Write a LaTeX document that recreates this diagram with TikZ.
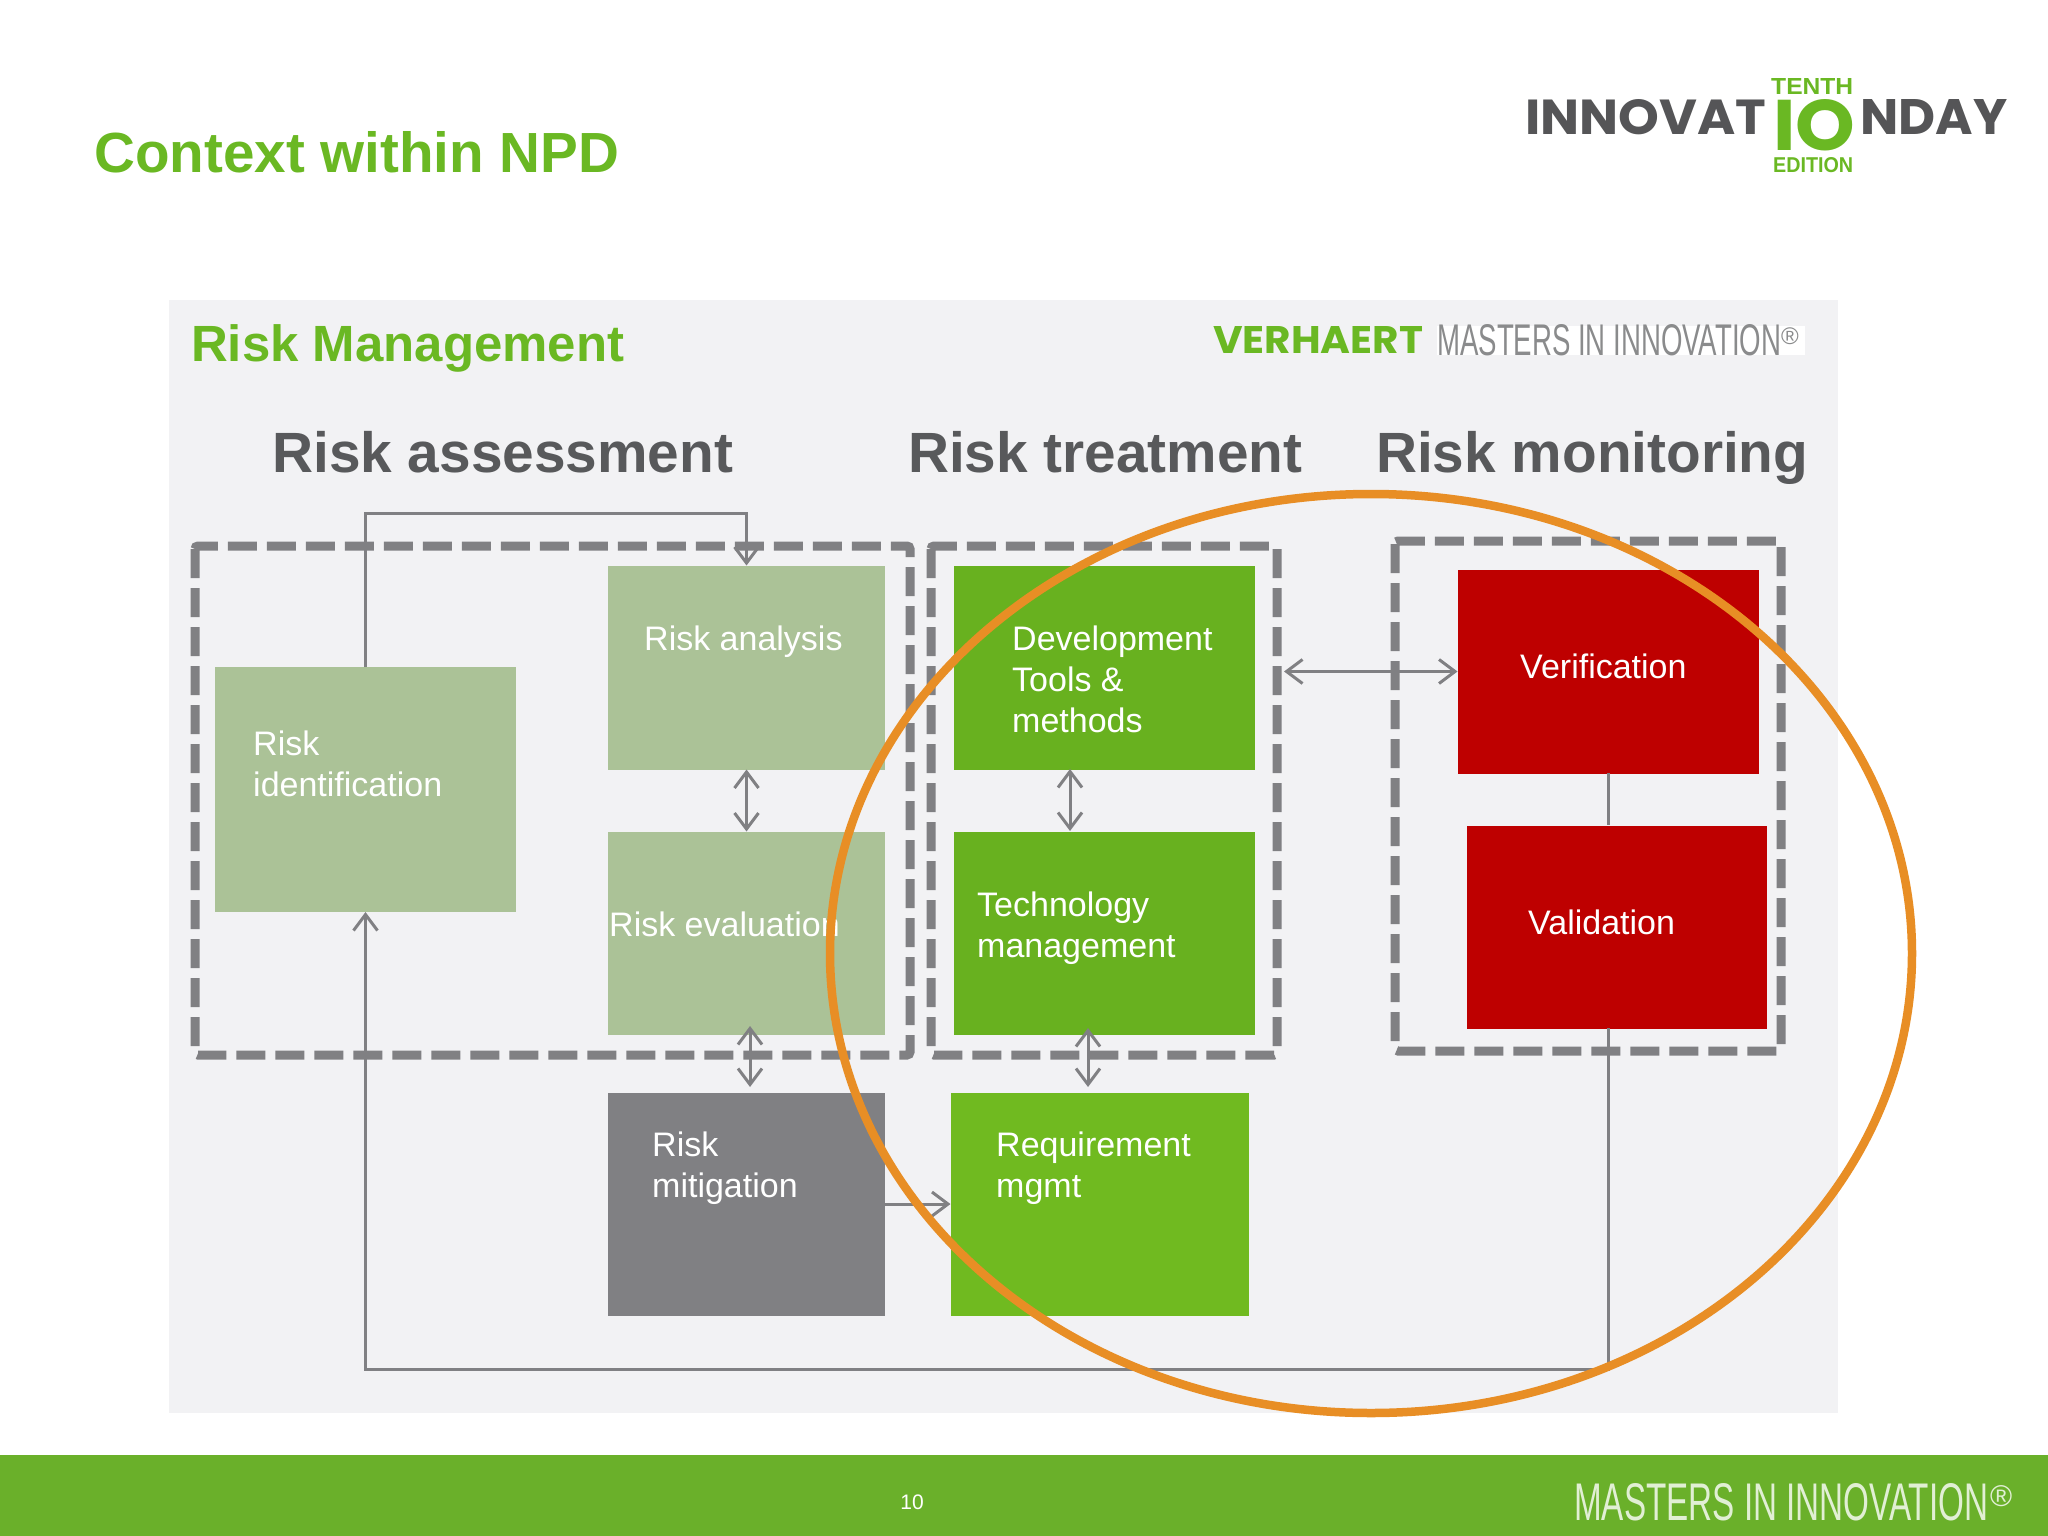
\documentclass[tikz,border=0pt]{standalone}
\usepackage{fontspec}
\usepackage{graphicx}
\setmainfont{Liberation Sans}
\newfontfamily\logofont{Poppins}
\usetikzlibrary{arrows.meta}
\definecolor{panelc}{HTML}{F2F2F4}
\definecolor{titleg}{HTML}{6AB823}
\definecolor{paleg}{HTML}{ABC297}
\definecolor{greenb}{HTML}{68B11F}
\definecolor{greenc}{HTML}{70BA20}
\definecolor{redb}{HTML}{BE0000}
\definecolor{lineg}{HTML}{808083}
\definecolor{headg}{HTML}{58595B}
\definecolor{orangec}{HTML}{E88E25}
\definecolor{footg}{HTML}{6AB02A}
\definecolor{logog}{HTML}{555557}
\tikzset{
 boxn/.style={draw=none,inner sep=0pt,outer sep=0pt,anchor=center},
 lbl/.style={text=white,anchor=west,inner sep=0pt,align=left,font=\fontsize{34}{41}\selectfont},
 txt/.style={anchor=base west,inner sep=0pt},
 dashb/.style={draw=lineg,line width=9pt,dash pattern=on 29pt off 10pt,rounded corners=3pt},
 conn/.style={draw=lineg,line width=3pt},
 bi/.style={conn,{Straight Barb[length=16pt,width=24pt,line width=3pt]}-{Straight Barb[length=16pt,width=24pt,line width=3pt]}},
 uni/.style={conn,-{Straight Barb[length=16pt,width=24pt,line width=3pt]}}
}
\newcommand{\fitw}[2]{\resizebox{#1pt}{!}{#2}}
\newcommand{\fitwh}[3]{\resizebox{#1pt}{#2pt}{#3}}
\begin{document}
\begin{tikzpicture}[x=1pt,y=-1pt]
\useasboundingbox (0,0) rectangle (2048,1536);
\fill[white] (0,0) rectangle (2048,1536);
% panel and footer
\fill[panelc] (169,300) rectangle (1838,1413);
\fill[footg] (0,1455) rectangle (2048,1536);
% titles
\node[txt,text=titleg] (title) at (94,172) {\fitw{525}{\bfseries Context within NPD}};
\node[txt,text=titleg] (rm0) at (191,361) {\fitw{433}{\bfseries Risk Management}};
\node[txt,text=headg] (h1) at (272,472) {\fitw{461}{\bfseries Risk assessment}};
\node[txt,text=headg] (h2) at (908,472) {\fitw{394}{\bfseries Risk treatment}};
\node[txt,text=headg] (h3) at (1376,472) {\fitw{432}{\bfseries Risk monitoring}};
% logo
\node[txt,text=logog] (lg1) at (1525,135) {\fitwh{241}{35}{\logofont\bfseries INNOVAT}};
\node[txt,text=logog] (lg2) at (1860,135) {\fitwh{147}{35}{\logofont\bfseries NDAY}};
\node[txt,text=titleg] (lg3) at (1773,151) {\fitwh{82}{51}{\logofont\bfseries IO}};
\node[txt,text=titleg] (lg4) at (1771,95) {\fitwh{82}{16}{\bfseries TENTH}};
\node[txt,text=titleg] (lg5) at (1773,172) {\fitwh{80}{15}{\bfseries EDITION}};
% verhaert strap
\fill[white] (1437,326) rectangle (1805,355);
\node[txt,text=titleg] (vh) at (1213,353) {\fitwh{210}{27}{\logofont\bfseries VERHAERT}};
\node[txt,text=headg!70] (mi) at (1437,355) {\fitwh{344}{31}{MASTERS IN INNOVATION}};
\node[txt,text=headg!70] (mir) at (1781,344) {\fontsize{24}{24}\selectfont ®};
% boxes
\node[boxn,fill=paleg,minimum width=301pt,minimum height=245pt] (ri) at (365.5,789.5) {};
\node[boxn,fill=paleg,minimum width=277pt,minimum height=204pt] (ra) at (746.5,667.5) {};
\node[boxn,fill=paleg,minimum width=277pt,minimum height=203pt] (re) at (746.5,933) {};
\node[boxn,fill=lineg,minimum width=277pt,minimum height=223pt] (rm) at (746.5,1204) {};
\node[boxn,fill=greenb,minimum width=301pt,minimum height=204pt] (dt) at (1104.5,667.5) {};
\node[boxn,fill=greenb,minimum width=301pt,minimum height=203pt] (tm) at (1104.5,933) {};
\node[boxn,fill=greenc,minimum width=298pt,minimum height=223pt] (rq) at (1099.5,1204) {};
\node[boxn,fill=redb,minimum width=301pt,minimum height=204pt] (ve) at (1608,671.5) {};
\node[boxn,fill=redb,minimum width=300pt,minimum height=203pt] (va) at (1617,927) {};
% dashed groups
\draw[dashb] (195,546) rectangle (910,1055);
\draw[dashb] (931,546) rectangle (1277,1055);
\draw[dashb] (1395,541) rectangle (1781,1051);
% connector points
\coordinate (topl) at (ri.north |- 0,513);
\coordinate (topr) at (ra.north |- 0,513);
\coordinate (botr) at (1608,1369);
\coordinate (botl) at (ri.south |- botr);
\coordinate (mu) at (750,1026);
\coordinate (md) at (750,1087);
\coordinate (tu) at (1088,1028);
\coordinate (td) at (1088,1087);
\coordinate (mide) at (1284,671.5);
\coordinate (dtb) at (1070,769);
\coordinate (tmt) at (1070,831);
% connectors
\draw[uni] (ri.north) -- (topl) -- (topr) -- (ra.north);
\draw[bi] (ra.south) -- (re.north);
\draw[bi] (mu) -- (md);
\draw[bi] (dtb) -- (tmt);
\draw[bi] (tu) -- (td);
\draw[uni] (rm.east |- rq.west) -- (rq.west);
\draw[bi] (mide) -- (ve.west);
\draw[conn] (1608,773) -- (1608,825);
\draw[uni] (1608,1028) -- (botr) -- (botl) -- (ri.south);
% labels
\node[lbl] (tri) at (253,764) {Risk\\identification};
\node[lbl] (tra) at (644,642) {Risk analysis};
\node[lbl] (tre) at (609,924) {Risk evaluation};
\node[lbl] (trm) at (652,1168) {Risk\\mitigation};
\node[lbl] (tdt) at (1012,679) {Development\\Tools \&\\methods};
\node[lbl] (ttm) at (977,928) {Technology\\management};
\node[lbl] (trq) at (996,1168) {Requirement\\mgmt};
\node[lbl] (tve) at (1520,666) {Verification};
\node[lbl] (tva) at (1528,922) {Validation};
% footer
\node[anchor=center,inner sep=0pt,text=white,font=\fontsize{21}{21}\selectfont] (pg) at (912,1502) {10};
\node[txt,text=white!80!footg] (fm) at (1574,1520) {\fitwh{414}{37}{MASTERS IN INNOVATION}};
\node[txt,text=white!80!footg] (fr) at (1990,1506) {\fontsize{30}{30}\selectfont ®};
% orange ellipse
\draw[orangec,line width=8.5pt] (1371,953.5) ellipse [x radius=541pt,y radius=459.5pt];
\end{tikzpicture}
\end{document}
